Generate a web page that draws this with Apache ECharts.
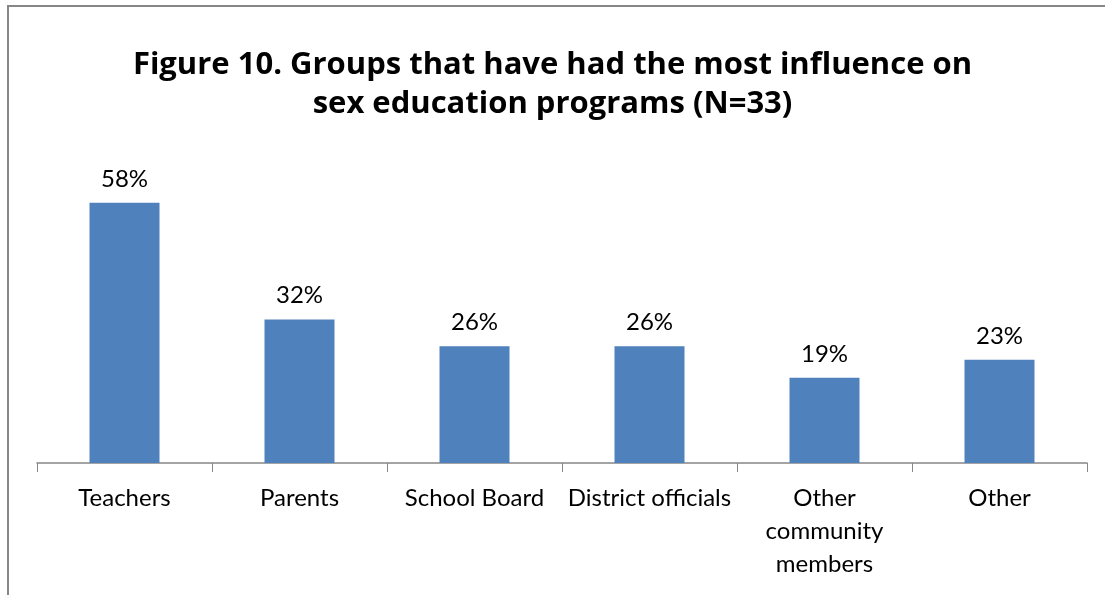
<!DOCTYPE html>
<html>
<head>
<meta charset="utf-8">
<script src="https://cdn.jsdelivr.net/npm/echarts@6/dist/echarts.min.js"></script>
<style>
  html, body { margin: 0; padding: 0; background: #fff; }
  #chart { width: 1105px; height: 595px; }
</style>
</head>
<body>
<div id="chart"></div>
<script>
// data
const groups = ['Teachers', 'Parents', 'School Board', 'District officials', 'Other\ncommunity\nmembers', 'Other'];
const shares = [58, 32, 26, 26, 19, 23];
const titleText = 'Figure 10. Groups that have had the most influence on\nsex education programs (N=33)';

const chart = echarts.init(document.getElementById('chart'));
chart.setOption({
  animation: false,
  textStyle: { fontFamily: 'Lato' },
  title: {
    text: titleText,
    left: 'center',
    top: 41,
    textStyle: { fontFamily: 'Open Sans', fontWeight: 'bold', fontSize: 31, lineHeight: 39, color: '#000' }
  },
  graphic: [{
    type: 'rect',
    shape: { x: 8, y: 6, width: 1200, height: 1000 },
    style: { fill: 'none', stroke: '#878787', lineWidth: 2 },
    silent: true
  }],
  grid: { left: 37, right: 18, top: 149, bottom: 132 },
  xAxis: {
    type: 'category',
    data: groups,
    axisLine: { lineStyle: { color: '#878787', width: 1.5 } },
    axisTick: { show: true, length: 9, lineStyle: { color: '#878787' } },
    axisLabel: { color: '#000', fontSize: 24, lineHeight: 33, margin: 19, interval: 0 }
  },
  yAxis: {
    type: 'value',
    min: 0,
    max: 70,
    show: false,
    splitLine: { show: false }
  },
  series: [{
    type: 'bar',
    data: shares,
    barWidth: 70,
    itemStyle: { color: '#4F81BD' },
    label: {
      show: true,
      position: 'top',
      distance: 12,
      color: '#000',
      fontSize: 24,
      formatter: p => p.value + '%'
    }
  }]
});
</script>
</body>
</html>
